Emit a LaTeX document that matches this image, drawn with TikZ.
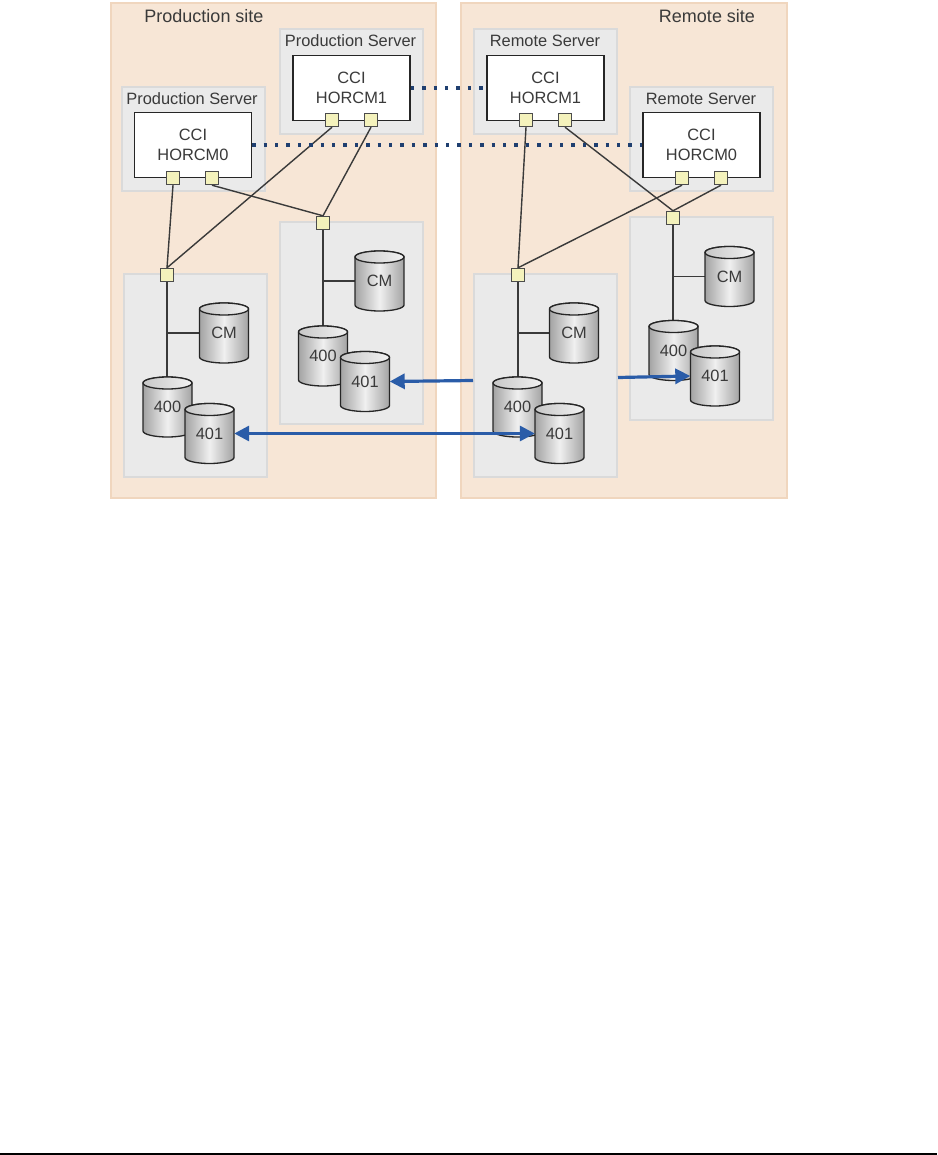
\documentclass[tikz,border=0pt]{standalone}
\usepackage{fontspec}
\setmainfont{Liberation Sans}
\usetikzlibrary{arrows.meta}
\pgfdeclarelayer{back}
\pgfdeclarelayer{mid}
\pgfsetlayers{back,mid,main}
\definecolor{sitefill}{HTML}{F7E6D6}
\definecolor{siteline}{HTML}{F0D6BE}
\definecolor{boxfill}{HTML}{EAEAEA}
\definecolor{boxline}{HTML}{DADADA}
\definecolor{portfill}{HTML}{F4F2BC}
\definecolor{inkline}{HTML}{3A3A3A}
\definecolor{txt}{HTML}{3A3A3A}
\definecolor{repl}{HTML}{2A5CA8}
\definecolor{navy}{HTML}{1F3F70}
\tikzset{
  x=1pt,y=-1pt,
  lbl/.style={text=txt,font=\fontsize{16.4}{20}\selectfont,inner sep=0pt,align=center},
  sitelabel/.style={text=txt,font=\fontsize{18}{20}\selectfont,inner sep=0pt},
  sitebox/.style={draw=siteline,fill=sitefill,line width=1.2pt,inner sep=0pt},
  greybox/.style={draw=boxline,fill=boxfill,line width=1.2pt,inner sep=0pt,minimum width=143pt},
  ccibox/.style={draw=black!85,fill=white,line width=1.5pt,lbl,minimum width=117pt,minimum height=65pt},
  port/.style={draw=black!70,fill=portfill,line width=1.4pt,inner sep=0pt,minimum size=13pt},
  wire/.style={draw=inkline,line width=1.4pt},
  dots/.style={draw=navy,line width=3.2pt,dash pattern=on 3.4pt off 8pt},
  rep/.style={draw=repl,line width=3.2pt},
  repend/.style={-{Triangle[length=15pt,width=15pt]}},
  repboth/.style={{Triangle[length=15pt,width=15pt]}-{Triangle[length=15pt,width=15pt]}},
  drumbody/.style={draw=black!85,line width=1.3pt,left color=black!36,right color=black!36,middle color=black!6},
  drumtop/.style={draw=black!85,line width=1.3pt,left color=black!22,right color=black!5},
  drumlabel/.style={lbl,minimum width=49pt,minimum height=60pt}
}
\newcommand{\drum}[4]{%
  \path[drumbody] (#2,#3) ++(-24.5pt,-24pt) -- ++(0pt,48pt) arc[start angle=180,end angle=0,x radius=24.5pt,y radius=6pt] -- ++(0pt,-48pt) arc[start angle=0,end angle=-180,x radius=24.5pt,y radius=6pt] -- cycle;
  \path[drumtop] (#2,#3) ++(0pt,24pt) ellipse[x radius=24.5pt,y radius=6pt];
  \node[drumlabel] (#1) at (#2,#3) {#4};
}
\begin{document}
\begin{tikzpicture}
\useasboundingbox (0,0) rectangle (937,1155);

\begin{pgfonlayer}{back}
  \path[fill=white] (0,0) rectangle (937,1155);
  \node[sitebox,minimum width=325pt,minimum height=495pt] (prodsite) at (273.5,250.5) {};
  \node[sitebox,minimum width=326pt,minimum height=495pt] (remsite) at (624,250.5) {};
  \node[greybox,minimum height=105pt] (psrvB) at (351.5,81.5) {};
  \node[greybox,minimum height=104pt] (psrvA) at (193.5,139) {};
  \node[greybox,minimum height=105pt] (rsrvB) at (545.5,81.5) {};
  \node[greybox,minimum height=104pt] (rsrvA) at (701.5,139) {};
  \node[greybox,minimum height=203pt] (pstA) at (195.5,375.5) {};
  \node[greybox,minimum height=202pt] (pstB) at (351.5,323) {};
  \node[greybox,minimum height=203pt] (rstA) at (545.5,375.5) {};
  \node[greybox,minimum height=203pt] (rstB) at (701.5,318.5) {};
\end{pgfonlayer}

\node[sitelabel] (psitetxt) at (204,16) {Production site};
\node[sitelabel] (rsitetxt) at (707,16) {Remote site};
\node[lbl] (psrvBt) at (350.5,41) {Production Server};
\node[lbl] (psrvAt) at (192,99) {Production Server};
\node[lbl] (rsrvBt) at (545,41) {Remote Server};
\node[lbl] (rsrvAt) at (701,99) {Remote Server};

\node[ccibox] (cpB) at (351.5,88) {CCI\\HORCM1};
\node[ccibox] (cpA) at (193,145) {CCI\\HORCM0};
\node[ccibox] (crB) at (545.5,88) {CCI\\HORCM1};
\node[ccibox] (crA) at (701.5,145) {CCI\\HORCM0};

\node[port] (pB1) at (332,120) {};
\node[port] (pB2) at (371,120) {};
\node[port] (pA1) at (173,178) {};
\node[port] (pA2) at (212,178) {};
\node[port] (rB1) at (526,120) {};
\node[port] (rB2) at (565,120) {};
\node[port] (rA1) at (682,178) {};
\node[port] (rA2) at (721,178) {};
\node[port] (swPA) at (167,275) {};
\node[port] (swPB) at (323,223) {};
\node[port] (swRA) at (518,275) {};
\node[port] (swRB) at (673,218) {};

\drum{pAcm}{224}{333}{CM}
\drum{pA400}{167.5}{407}{400}
\drum{pA401}{209.5}{433.5}{401}
\drum{pBcm}{379.5}{281}{CM}
\drum{pB400}{323}{356}{400}
\drum{pB401}{365}{381.5}{401}
\drum{rAcm}{574}{333}{CM}
\drum{rA400}{517.5}{407}{400}
\drum{rA401}{559.5}{433.5}{401}
\drum{rBcm}{729.5}{276.5}{CM}
\drum{rB400}{673.5}{350.5}{400}
\drum{rB401}{715}{376}{401}

\begin{pgfonlayer}{mid}
  \draw[wire] (pA1.south) -- (swPA.north);
  \draw[wire] (pB1.south) -- (swPA.north);
  \draw[wire] (pA2.south) -- (swPB.north);
  \draw[wire] (pB2.south) -- (swPB.north);
  \draw[wire] (rB1.south) -- (swRA.north);
  \draw[wire] (rA1.south) -- (swRA.north);
  \draw[wire] (rB2.south) -- (swRB.north);
  \draw[wire] (rA2.south) -- (swRB.north);
  \draw[wire] (swPA) -- (swPA |- pA400.north);
  \draw[wire] (swPB) -- (swPB |- pB400.north);
  \draw[wire] (swRA) -- (swRA |- rA400.north);
  \draw[wire] (swRB) -- (swRB |- rB400.north);
  \draw[wire] (swPA |- pAcm.west) -- (pAcm.west);
  \draw[wire] (swPB |- pBcm.west) -- (pBcm.west);
  \draw[wire] (swRA |- rAcm.west) -- (rAcm.west);
  \draw[wire] (swRB |- rBcm.west) -- (rBcm.west);
\end{pgfonlayer}

\draw[dots] (cpB.east) -- (crB.west);
\draw[dots] (cpA.east) -- (crA.west);

\coordinate (repAstart) at (473,380.5);
\coordinate (repCstart) at (618,377.5);
\draw[rep,repend] (repAstart) -- (pB401.east);
\draw[rep,repboth] (pA401.east) -- (rA401.west);
\draw[rep,repend] (repCstart) -- (rB401.west);

\coordinate (ruleL) at (0,1154);
\coordinate (ruleR) at (937,1154);
\draw[black,line width=1.5pt] (ruleL) -- (ruleR);
\end{tikzpicture}
\end{document}
